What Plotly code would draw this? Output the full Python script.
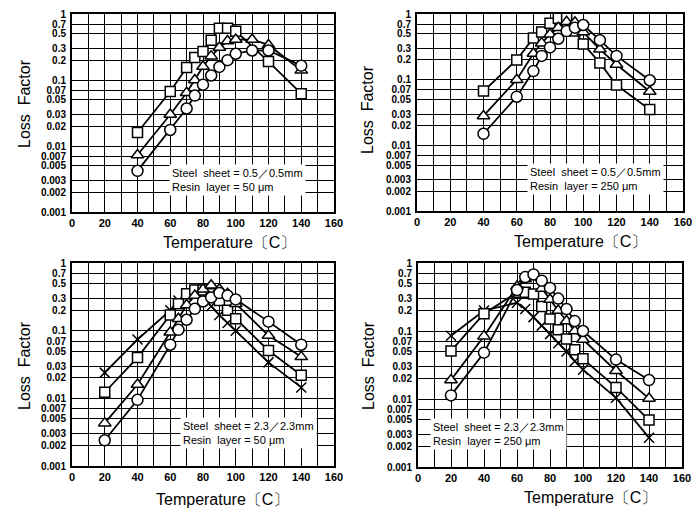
import numpy as np
import plotly.graph_objects as go

# ---- data ----
tl_t = [40, 60, 70, 75, 80, 85, 90, 95, 100, 110, 120, 140]
tl_sq_t = [40, 60, 70, 75, 80, 85, 90, 95, 100, 120, 140]
tl_square = [0.016, 0.067, 0.155, 0.22, 0.27, 0.40, 0.61, 0.61, 0.55, 0.19, 0.062]
tl_triangle = [0.0073, 0.03, 0.064, 0.10, 0.16, 0.23, 0.31, 0.39, 0.41, 0.41, 0.34, 0.14]
tl_circle = [0.0042, 0.0175, 0.037, 0.058, 0.085, 0.117, 0.158, 0.2, 0.25, 0.28, 0.28, 0.165]

tr_t = [40, 60, 70, 75, 80, 85, 90, 95, 100, 110, 120, 140]
tr_square = [0.067, 0.2, 0.43, 0.53, 0.72, 0.86, 0.86, 0.55, 0.35, 0.18, 0.083, 0.035]
tr_triangle = [0.028, 0.10, 0.25, 0.36, 0.49, 0.62, 0.76, 0.75, 0.53, 0.29, 0.17, 0.066]
tr_circle = [0.015, 0.055, 0.135, 0.23, 0.31, 0.42, 0.55, 0.62, 0.68, 0.40, 0.23, 0.098]

bl_t = [20, 40, 60, 65, 70, 75, 80, 85, 90, 95, 100, 120, 140]
bl_cross = [0.024, 0.074, 0.2, 0.28, 0.33, 0.34, 0.3, 0.23, 0.17, 0.13, 0.1, 0.034, 0.0145]
bl_square = [0.0123, 0.04, 0.17, 0.25, 0.35, 0.4, 0.4, 0.35, 0.28, 0.2, 0.15, 0.051, 0.022]
bl_triangle = [0.0043, 0.016, 0.095, 0.15, 0.24, 0.33, 0.41, 0.47, 0.41, 0.35, 0.25, 0.085, 0.041]
bl_circle = [0.0024, 0.0095, 0.062, 0.103, 0.145, 0.21, 0.27, 0.31, 0.36, 0.33, 0.29, 0.136, 0.062]

br_t = [20, 40, 60, 65, 70, 75, 80, 85, 90, 95, 100, 120, 140]
br_cross = [0.085, 0.2, 0.26, 0.21, 0.16, 0.12, 0.09, 0.066, 0.05, 0.036, 0.027, 0.0104, 0.0027]
br_square = [0.051, 0.18, 0.37, 0.37, 0.35, 0.23, 0.15, 0.104, 0.076, 0.053, 0.039, 0.0148, 0.0049]
br_triangle = [0.019, 0.084, 0.45, 0.58, 0.63, 0.42, 0.29, 0.2, 0.14, 0.1, 0.075, 0.026, 0.0102]
br_circle = [0.0113, 0.048, 0.4, 0.62, 0.68, 0.55, 0.43, 0.3, 0.21, 0.14, 0.1, 0.038, 0.019]

notes = [
    "Steel  sheet = 0.5／0.5mm<br>Resin  layer = 50 μm",
    "Steel  sheet = 0.5／0.5mm<br>Resin  layer = 250 μm",
    "Steel  sheet = 2.3／2.3mm<br>Resin  layer = 50 μm",
    "Steel  sheet = 2.3／2.3mm<br>Resin  layer = 250 μm",
]

y_ticks = [0.001, 0.002, 0.003, 0.005, 0.007, 0.01, 0.02, 0.03, 0.05, 0.07,
           0.1, 0.2, 0.3, 0.5, 0.7, 1]
y_text = ["0.001", "0.002", "0.003", "0.005", "0.007", "0.01", "0.02", "0.03",
          "0.05", "0.07", "0.1", "0.2", "0.3", "0.5", "0.7", "1"]

# the page body adds an 8px margin, so the figure is drawn 8px smaller and
# all screen positions below are shifted back by OFF
OFF = 8
W, H = 700 - OFF, 512 - OFF
# plot-area boxes in screen pixels: left, right, top, bottom
boxes = [(72, 334, 14, 212), (417, 683, 14, 211), (72, 334, 263, 466), (418, 682, 263, 467)]
# title positions in screen pixels
ytitle_pos = [(24, 104), (368, 110), (24, 366), (368, 366)]
xtitle_pos = [(230, 242), (580, 241), (222, 499), (590, 497)]


def px_x(v):
    return min(1, max(0, (v - OFF) / W))


def px_y(v):
    return min(1, max(0, 1 - (v - OFF) / H))


FONT = "Liberation Sans"
MARK = {
    "square": dict(symbol="square", size=10),
    "triangle": dict(symbol="triangle-up", size=11),
    "circle": dict(symbol="circle", size=11),
    "cross": dict(symbol="x-thin", size=10),
}

fig = go.Figure()


def add_series(i, t, vals, kind):
    xa = "x" if i == 0 else f"x{i + 1}"
    ya = "y" if i == 0 else f"y{i + 1}"
    m = dict(MARK[kind], color="white", line=dict(color="black", width=1.5))
    fig.add_trace(go.Scatter(
        x=t, y=vals, mode="lines+markers", xaxis=xa, yaxis=ya,
        line=dict(color="black", width=1.8), marker=m, showlegend=False,
    ))


add_series(0, tl_sq_t, tl_square, "square")
add_series(0, tl_t, tl_triangle, "triangle")
add_series(0, tl_t, tl_circle, "circle")
add_series(1, tr_t, tr_square, "square")
add_series(1, tr_t, tr_triangle, "triangle")
add_series(1, tr_t, tr_circle, "circle")
add_series(2, bl_t, bl_cross, "cross")
add_series(2, bl_t, bl_square, "square")
add_series(2, bl_t, bl_triangle, "triangle")
add_series(2, bl_t, bl_circle, "circle")
add_series(3, br_t, br_cross, "cross")
add_series(3, br_t, br_square, "square")
add_series(3, br_t, br_triangle, "triangle")
add_series(3, br_t, br_circle, "circle")

layout = {}
for i, (l, r, t, b) in enumerate(boxes):
    sfx = "" if i == 0 else str(i + 1)
    layout["xaxis" + sfx] = dict(
        domain=[px_x(l), px_x(r)], anchor="y" + sfx, range=[0, 160],
        tickvals=list(range(0, 161, 20)), ticks="", showgrid=True,
        gridcolor="black", gridwidth=1.3, zeroline=False, automargin=False,
        minor=dict(dtick=10, showgrid=True, gridcolor="black", gridwidth=1.3),
        showline=True, linecolor="black", linewidth=2, mirror=True,
        ticklabeloverflow="allow",
        tickfont=dict(family=FONT, size=11, color="black", weight="bold"),
    )
    layout["yaxis" + sfx] = dict(
        domain=[px_y(b), px_y(t)], anchor="x" + sfx, type="log",
        range=[-3, 0], tickvals=y_ticks, ticktext=y_text, ticks="",
        showgrid=True, gridcolor="black", gridwidth=1.3, zeroline=False,
        automargin=False, ticklabelstandoff=2, ticklabeloverflow="allow",
        showline=True, linecolor="black", linewidth=2, mirror=True,
        tickfont=dict(family=FONT, size=10, color="black", weight="bold"),
    )

note_pos = [(59, 0.0031), (66, 0.0031), (66, 0.0031), (7, 0.0031)]
annotations = []
for i, (txt, (nx, ny)) in enumerate(zip(notes, note_pos)):
    sfx = "" if i == 0 else str(i + 1)
    annotations.append(dict(
        x=nx, y=np.log10(ny), xref="x" + sfx, yref="y" + sfx, text=txt,
        showarrow=False, xanchor="left", yanchor="middle", align="left",
        bgcolor="white", borderpad=2,
        font=dict(family=FONT, size=11, color="black"),
    ))
for (yx, yy), (tx, ty) in zip(ytitle_pos, xtitle_pos):
    annotations.append(dict(
        x=px_x(yx), y=px_y(yy), xref="paper", yref="paper", text="Loss  Factor",
        textangle=-90, showarrow=False, xanchor="center", yanchor="middle",
        font=dict(family=FONT, size=16, color="black"),
    ))
    annotations.append(dict(
        x=px_x(tx), y=px_y(ty), xref="paper", yref="paper", text="Temperature〔C〕",
        showarrow=False, xanchor="center", yanchor="middle",
        font=dict(family=FONT, size=16, color="black"),
    ))

fig.update_layout(
    width=W, height=H, margin=dict(l=0, r=0, t=0, b=0),
    paper_bgcolor="white", plot_bgcolor="white",
    annotations=annotations, **layout,
)

fig.write_html("out.html")
